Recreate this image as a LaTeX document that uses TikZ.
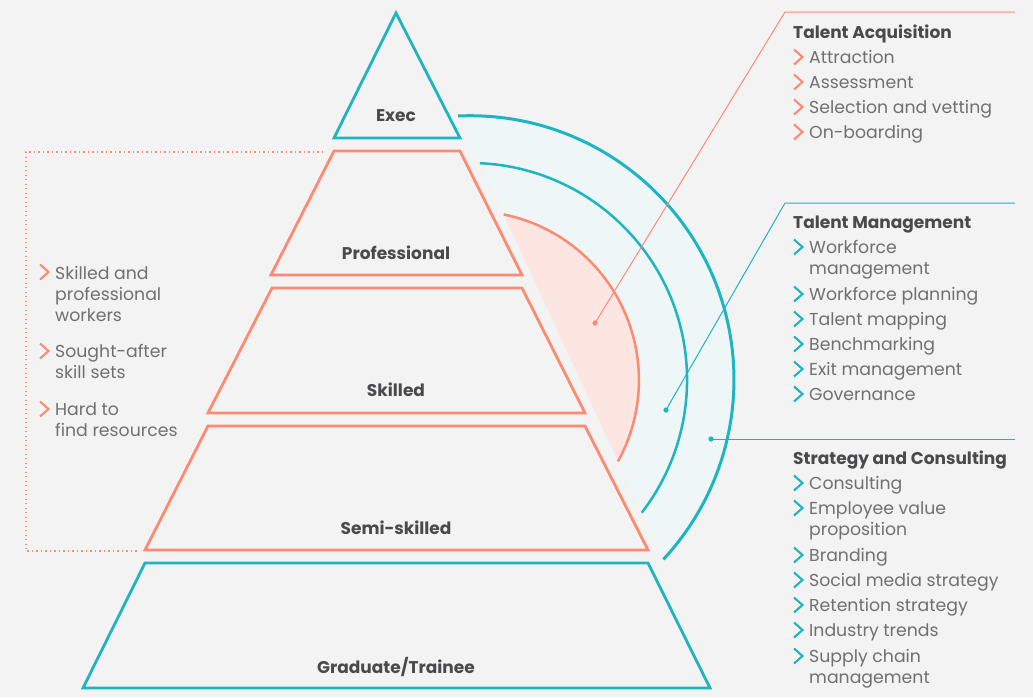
\documentclass[tikz,border=0pt]{standalone}
\usepackage{fontspec}
\setmainfont{Poppins}
\usetikzlibrary{calc,positioning}
\definecolor{bg}{HTML}{F3F3F3}
\definecolor{tealline}{HTML}{1DB5C2}
\definecolor{coralline}{HTML}{FF8A73}
\definecolor{bluefill}{HTML}{EEF6F8}
\definecolor{pinkfill}{HTML}{FDE6E2}
\definecolor{headgray}{HTML}{4A4A4C}
\definecolor{itemgray}{HTML}{707072}

% chevron in front of a list item: #1 colour, #2 x, #3 y of its middle
\newcommand{\chev}[3]{\draw[#1, line width=2.1pt] (#2,#3) ++(0,-7.5) -- ++(8.5,7.5) -- ++(-8.5,7.5);}

\begin{document}
\begin{tikzpicture}[
    x=1pt, y=-1pt,
    level/.style={line width=2.8pt},
    lbl/.style={anchor=base, font=\bfseries\fontsize{17}{20}\selectfont, text=headgray, inner sep=0},
    head/.style={anchor=base west, font=\bfseries\fontsize{17}{20}\selectfont, text=headgray, inner sep=0},
    item/.style={anchor=base west, align=left, font=\fontsize{17.3}{21}\selectfont, text=itemgray, inner sep=0},
    leader/.style={line width=1pt},
    ]
    \fill[bg] (0,0) rectangle (1033,697);

    % rings round the upper levels
    \fill[bluefill] (458,116) arc[start angle=-92.6, end angle=42.9, radius=264] -- cycle;
    \fill[pinkfill] (503.6,214.4) arc[start angle=-78.5, end angle=28.8, radius=169] -- cycle;
    \draw[tealline, line width=3pt] (458,116) arc[start angle=-92.6, end angle=42.9, radius=264];
    \draw[tealline, line width=2.5pt] (479.9,163.2) arc[start angle=-87.4, end angle=37.7, radius=217];
    \draw[coralline, line width=2.5pt] (503.6,214.4) arc[start angle=-78.5, end angle=28.8, radius=169];

    % pyramid
    \draw[level, tealline] (396,13) -- (460,138) -- (334,138) -- cycle;
    \draw[level, coralline] (334,151) -- (460,151) -- (522,275) -- (271,275) -- cycle;
    \draw[level, coralline] (272,288) -- (522,288) -- (585,413) -- (208,413) -- cycle;
    \draw[level, coralline] (208,426) -- (585,426) -- (648,550) -- (145,550) -- cycle;
    \draw[level, tealline] (145,563) -- (648,563) -- (710,688) -- (83,688) -- cycle;

    \node[lbl] (exec) at (396,121) {Exec};
    \node[lbl] (prof) at (396,259) {Professional};
    \node[lbl] (skil) at (396,396) {Skilled};
    \node[lbl] (semi) at (396,534) {Semi-skilled};
    \node[lbl] (grad) at (396,673) {Graduate/Trainee};

    % bracket and notes on the left (base = last line)
    \draw[coralline, line width=1.3pt, dash pattern=on 1.3pt off 3.2pt] (323,152) -- (26,152) -- (26,551) -- (140,551);
    \node[item] (note1) at (55,321) {Skilled and\\professional\\workers};
    \node[item] (note2) at (55,378) {Sought-after\\skill sets};
    \node[item] (note3) at (55,436) {Hard to\\find resources};
    \chev{coralline}{40}{272} \chev{coralline}{40}{351} \chev{coralline}{40}{409}

    % talent acquisition
    \node[head] (acq) at (793,38) {Talent Acquisition};
    \node[item] (acq1) at (809,63) {Attraction};
    \node[item] (acq2) at (809,88) {Assessment};
    \node[item] (acq3) at (809,113) {Selection and vetting};
    \node[item] (acq4) at (809,138) {On-boarding};
    \chev{coralline}{794}{57} \chev{coralline}{794}{82} \chev{coralline}{794}{107} \chev{coralline}{794}{132}

    % talent management
    \node[head] (mgmt) at (793,228) {Talent Management};
    \node[item] (mgmt1) at (809,274) {Workforce\\management};
    \node[item] (mgmt2) at (809,300) {Workforce planning};
    \node[item] (mgmt3) at (809,325) {Talent mapping};
    \node[item] (mgmt4) at (809,350) {Benchmarking};
    \node[item] (mgmt5) at (809,375) {Exit management};
    \node[item] (mgmt6) at (809,400) {Governance};
    \chev{tealline}{794}{247} \chev{tealline}{794}{294} \chev{tealline}{794}{319}
    \chev{tealline}{794}{344} \chev{tealline}{794}{369} \chev{tealline}{794}{394}

    % strategy and consulting
    \node[head] (strat) at (793,464) {Strategy and Consulting};
    \node[item] (strat1) at (809,489) {Consulting};
    \node[item] (strat2) at (809,535) {Employee value\\proposition};
    \node[item] (strat3) at (809,561) {Branding};
    \node[item] (strat4) at (809,586) {Social media strategy};
    \node[item] (strat5) at (809,611) {Retention strategy};
    \node[item] (strat6) at (809,636) {Industry trends};
    \node[item] (strat7) at (809,683) {Supply chain\\management};
    \chev{tealline}{794}{483} \chev{tealline}{794}{508} \chev{tealline}{794}{555} \chev{tealline}{794}{580}
    \chev{tealline}{794}{605} \chev{tealline}{794}{630} \chev{tealline}{794}{656}

    % leaders from the rings to the lists
    \coordinate (dotA) at (595,323);
    \coordinate (dotM) at (666,410);
    \coordinate (dotS) at (711,439);
    \coordinate (kneeA) at (785,12);
    \coordinate (kneeM) at (785,203);
    \coordinate (endA) at (1015,12);
    \coordinate (endM) at (1015,203);
    \coordinate (endS) at (1015,439);
    \draw[leader, coralline] (dotA) -- (kneeA) -- (endA);
    \draw[leader, tealline] (dotM) -- (kneeM) -- (endM);
    \draw[leader, tealline] (dotS) -- (endS);
    \fill[coralline] (dotA) circle (2.6);
    \fill[tealline] (dotM) circle (2.6) (dotS) circle (2.6);
\end{tikzpicture}
\end{document}
